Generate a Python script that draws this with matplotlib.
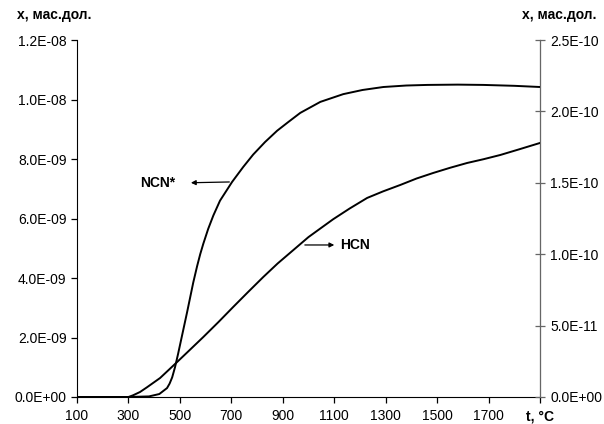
import numpy as np
import matplotlib.pyplot as plt
from matplotlib.ticker import FuncFormatter

plt.rcParams['font.family'] = ['Liberation Sans', 'DejaVu Sans']

# NCN* (левая ось)
t_ncn = [100, 300, 380, 420, 450, 460, 470, 481, 493, 513, 528, 540, 552, 567, 579,
         591, 610, 630, 656, 703, 746, 785, 831, 878, 921, 968, 1046, 1135, 1210, 1291,
         1380, 1462, 1580, 1680, 1800, 1900]
x_ncn = [0, 0, 0.02e-9, 0.1e-9, 0.3e-9, 0.45e-9, 0.66e-9, 1.0e-9, 1.45e-9, 2.25e-9,
         2.85e-9, 3.35e-9, 3.85e-9, 4.40e-9, 4.80e-9, 5.15e-9, 5.65e-9, 6.1e-9, 6.6e-9,
         7.23e-9, 7.73e-9, 8.15e-9, 8.57e-9, 8.95e-9, 9.24e-9, 9.55e-9, 9.92e-9,
         10.18e-9, 10.32e-9, 10.42e-9, 10.47e-9, 10.49e-9, 10.50e-9, 10.49e-9,
         10.46e-9, 10.42e-9]

# HCN (правая ось)
t_hcn = [100, 300, 318, 345, 372, 423, 481, 530, 591, 650, 707, 765, 824, 880, 941,
         1000, 1046, 1096, 1160, 1228, 1290, 1357, 1420, 1485, 1550, 1617, 1680, 1746,
         1820, 1900]
x_hcn = [0, 0, 0.12e-11, 0.35e-11, 0.68e-11, 1.33e-11, 2.31e-11, 3.15e-11, 4.20e-11,
         5.25e-11, 6.30e-11, 7.35e-11, 8.40e-11, 9.35e-11, 10.29e-11, 11.2e-11,
         11.8e-11, 12.45e-11, 13.2e-11, 13.94e-11, 14.40e-11, 14.85e-11, 15.30e-11,
         15.69e-11, 16.05e-11, 16.39e-11, 16.65e-11, 16.95e-11, 17.35e-11, 17.79e-11]

xticks = [100, 300, 500, 700, 900, 1100, 1300, 1500, 1700, 1900]
xlabels = ['100', '300', '500', '700', '900', '1100', '1300', '1500', '1700', 't, °C']

fmt = FuncFormatter(lambda v, p: f'{v:.1E}')

fig = plt.figure(figsize=(6.04, 4.24), dpi=100)
ax = fig.add_axes([77/604, 1-397/424, 463/604, 357/424])
ax2 = ax.twinx()

ax.plot(t_ncn, x_ncn, color='black', lw=1.4, solid_joinstyle='round')
ax2.plot(t_hcn, x_hcn, color='black', lw=1.4, solid_joinstyle='round')

ax.set_xlim(100, 1900)
ax.set_ylim(0, 1.2e-8)
ax2.set_ylim(0, 2.5e-10)
ax.set_yticks(np.arange(0, 1.21e-8, 2e-9))
ax2.set_yticks(np.arange(0, 2.51e-10, 5e-11))
ax.yaxis.set_major_formatter(fmt)
ax2.yaxis.set_major_formatter(fmt)
ax.set_xticks(xticks)
ax.set_xticklabels(xlabels)
ax.get_xticklabels()[-1].set_fontweight('bold')
ax.get_xticklabels()[-1].set_fontsize(11)

for a in (ax, ax2):
    a.spines['top'].set_visible(False)
    a.tick_params(labelsize=10, length=4, width=0.9)
ax2.spines['right'].set_color('#666666')
ax2.spines['left'].set_visible(False)
ax2.spines['bottom'].set_visible(False)
ax2.tick_params(axis='y', direction='inout', length=7, color='#666666', pad=4)
ax.tick_params(axis='x', pad=5)

# подписи кривых
ax.annotate('', xy=(532, 7.2e-9), xytext=(703, 7.23e-9),
            arrowprops=dict(arrowstyle='-|>', color='black', lw=0.9, mutation_scale=7))
ax.text(415, 7.2e-9, 'NCN*', fontsize=10, fontweight='bold', ha='center', va='center')
ax.annotate('', xy=(1111, 5.11e-9), xytext=(975, 5.11e-9),
            arrowprops=dict(arrowstyle='-|>', color='black', lw=0.9, mutation_scale=7))
ax.text(1122, 5.11e-9, 'HCN', fontsize=10, fontweight='bold', ha='left', va='center')

fig.text(17/604, 1-15/424, 'x, мас.дол.', fontsize=10, fontweight='bold', ha='left', va='center')
fig.text(597/604, 1-15/424, 'x, мас.дол.', fontsize=10, fontweight='bold', ha='right', va='center')

fig.savefig('out.png', dpi=100)
